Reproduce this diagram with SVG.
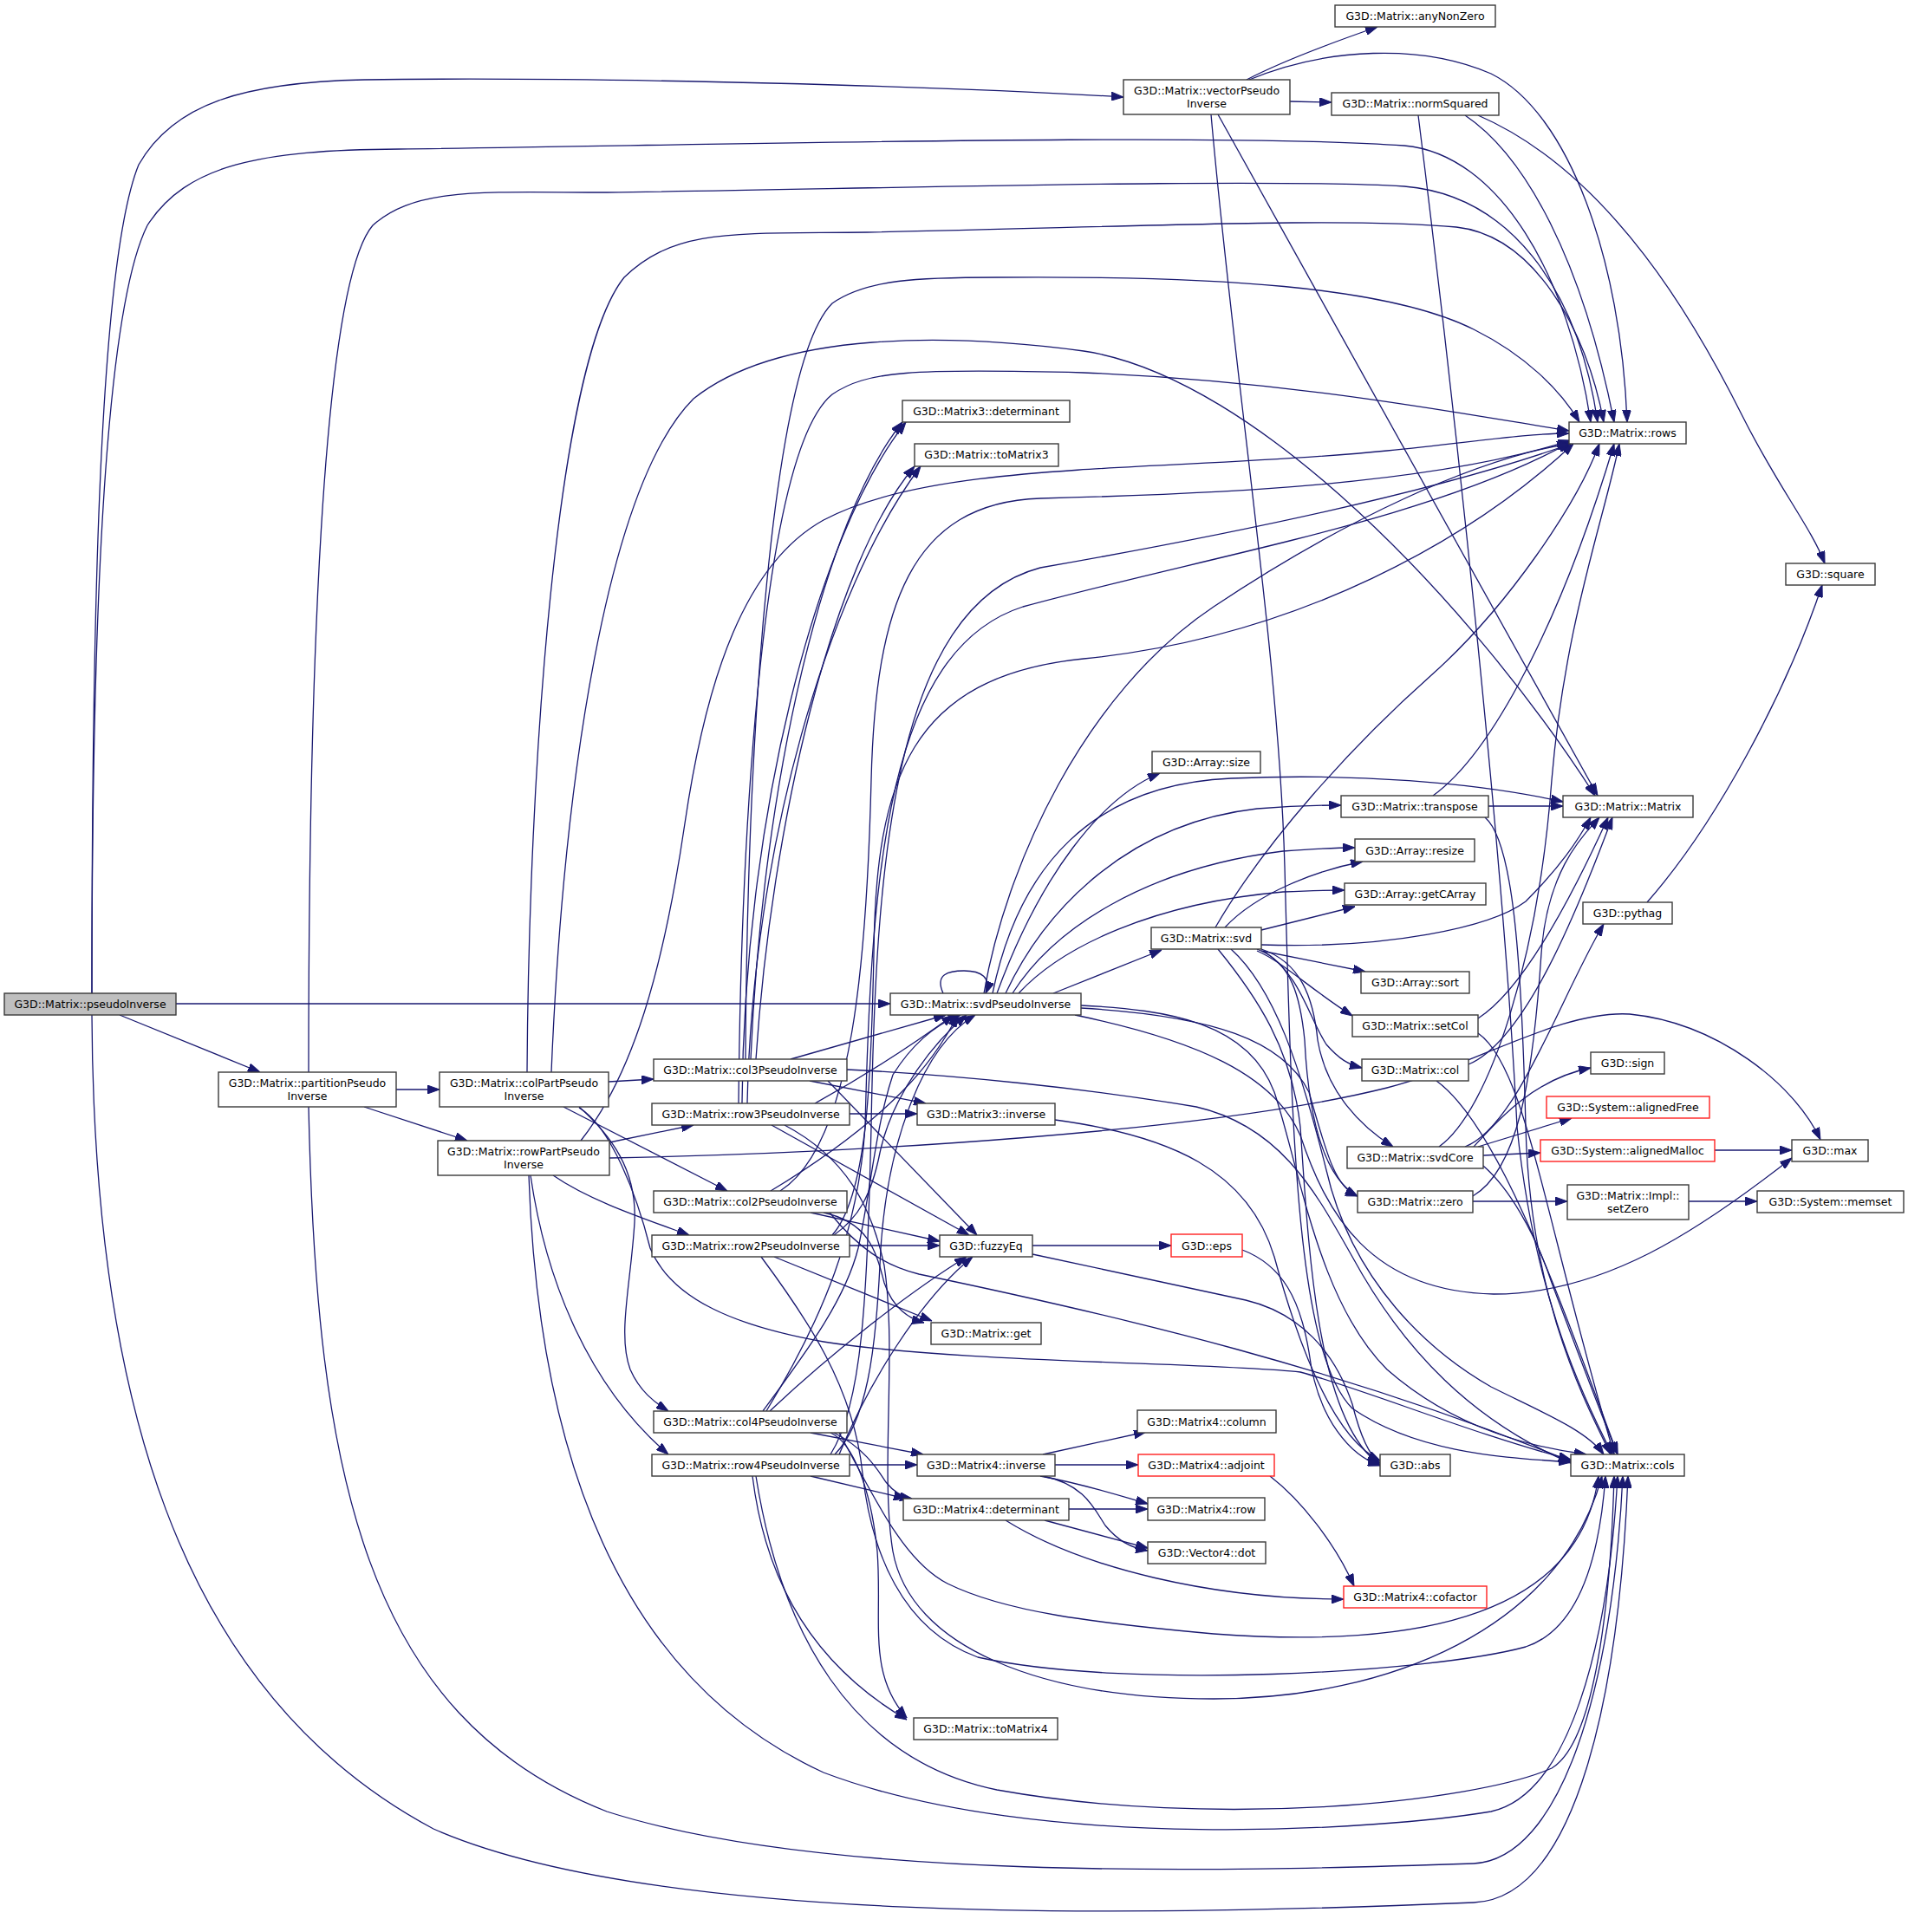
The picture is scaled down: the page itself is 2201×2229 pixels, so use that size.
<svg xmlns="http://www.w3.org/2000/svg" width="2201" height="2229" viewBox="0 0 2201 2229">
<style>
.n rect{fill:#ffffff;stroke:#3a3a3a;stroke-width:1.4}
.n.r rect{stroke:#ff2020}
.n.g rect{fill:#bfbfbf}
.n text{font-family:"DejaVu Sans","Liberation Sans",sans-serif;font-size:12.5px;fill:#000;text-anchor:middle}
.e path{fill:none;stroke:#191970;stroke-width:1.3;marker-end:url(#a)}
</style>
<defs>
<marker id="a" viewBox="0 0 14 10" refX="14" refY="5" markerWidth="14" markerHeight="10" markerUnits="userSpaceOnUse" orient="auto"><path d="M0,0 L14,5 L0,10 z" fill="#191970" stroke="#191970" stroke-width="1"/></marker>
</defs>
<rect x="0" y="0" width="2201" height="2229" fill="#ffffff"/>
<g id="connectors" class="e">
<path d="M106,1146 C106,700 115,300 160,190 C200,120 280,95 420,92 C700,88 1100,100 1296,112"/>
<path d="M106,1146 C106,720 120,360 170,260 C215,190 300,173 460,172 C800,168 1400,152 1620,168 C1730,178 1810,320 1835,487"/>
<path d="M203,1158 L1027,1158"/>
<path d="M138,1171 L300,1237"/>
<path d="M106,1171 C108,1600 200,1950 500,2110 C750,2220 1300,2212 1700,2195 C1820,2190 1868,1950 1878,1703"/>
<path d="M1438,92 C1480,70 1540,48 1589,31"/>
<path d="M1488,117 L1536,118"/>
<path d="M1441,92 C1530,55 1640,50 1720,85 C1810,130 1870,300 1877,487"/>
<path d="M1405,132 L1843,918"/>
<path d="M1397,132 C1425,450 1475,750 1482,1000 C1490,1300 1495,1560 1560,1625 C1640,1680 1750,1682 1812,1687"/>
<path d="M1690,133 C1760,180 1825,300 1862,487"/>
<path d="M1636,133 C1682,500 1735,1000 1750,1300 C1770,1500 1830,1620 1860,1678"/>
<path d="M1705,133 C1860,200 1960,380 2010,480 C2050,560 2090,610 2105,650"/>
<path d="M457,1257 L507,1257"/>
<path d="M420,1277 L539,1316"/>
<path d="M356,1237 C356,800 370,330 430,260 C480,215 560,222 700,222 C1000,218 1450,205 1620,215 C1740,225 1820,330 1843,487"/>
<path d="M356,1277 C365,1700 420,1980 700,2090 C950,2170 1400,2160 1700,2150 C1800,2145 1860,1950 1872,1703"/>
<path d="M702,1248 L754,1245"/>
<path d="M650,1277 L839,1374"/>
<path d="M668,1277 C705,1310 735,1350 732,1410 C728,1480 712,1540 727,1580 C738,1605 755,1618 771,1628"/>
<path d="M608,1237 C610,900 640,420 720,320 C780,262 850,270 1000,268 C1300,262 1550,250 1680,262 C1770,272 1830,380 1850,487"/>
<path d="M668,1278 C705,1300 735,1380 750,1440 C775,1500 850,1530 950,1548 C1100,1572 1400,1572 1500,1583 C1580,1605 1700,1655 1812,1684"/>
<path d="M636,1237 C650,900 700,560 800,460 C900,380 1100,385 1250,405 C1450,435 1700,700 1840,918"/>
<path d="M703,1318 L800,1298"/>
<path d="M638,1356 C680,1385 740,1405 795,1425"/>
<path d="M612,1356 C630,1480 680,1600 771,1678"/>
<path d="M670,1316 C730,1240 765,1120 790,950 C815,780 860,650 950,600 C1080,530 1350,545 1600,520 C1700,510 1760,500 1810,500"/>
<path d="M610,1356 C620,1650 700,1930 950,2045 C1200,2140 1600,2110 1720,2090 C1810,2070 1855,1900 1866,1703"/>
<path d="M703,1336 C1000,1330 1400,1305 1600,1255 C1700,1230 1800,1165 1880,1170 C1980,1180 2070,1250 2100,1315"/>
<path d="M912,1222 L1091,1171"/>
<path d="M934,1247 L1068,1273"/>
<path d="M955,1247 L1127,1425"/>
<path d="M977,1234 C1100,1240 1250,1255 1380,1277 C1480,1300 1520,1380 1560,1450 C1620,1560 1700,1640 1812,1688"/>
<path d="M866,1222 C880,900 950,600 1041,487"/>
<path d="M872,1222 C890,950 960,650 1055,538"/>
<path d="M860,1222 C862,850 890,420 960,350 C1000,322 1060,320 1150,320 C1400,318 1600,330 1700,380 C1760,410 1800,450 1822,487"/>
<path d="M980,1285 L1058,1285"/>
<path d="M940,1273 C1000,1240 1060,1200 1100,1171"/>
<path d="M890,1298 L1118,1425"/>
<path d="M856,1273 C858,950 940,620 1045,487"/>
<path d="M862,1273 C868,980 955,680 1062,538"/>
<path d="M852,1273 C855,950 880,520 960,455 C1000,428 1050,425 1250,430 C1500,440 1700,480 1810,497"/>
<path d="M905,1298 C975,1335 1005,1390 1020,1460 C1035,1560 1015,1700 1030,1790 C1050,1900 1200,1960 1400,1960 C1600,1960 1800,1880 1848,1703"/>
<path d="M889,1374 C950,1337 1000,1300 1040,1260 C1070,1230 1090,1200 1105,1171"/>
<path d="M935,1399 L1084,1432"/>
<path d="M950,1399 C1000,1410 1010,1440 1020,1480 C1030,1510 1050,1522 1066,1526"/>
<path d="M957,1399 C990,1440 1020,1460 1060,1470 C1300,1520 1550,1580 1812,1686"/>
<path d="M900,1374 C985,1320 1000,1100 1005,900 C1010,700 1050,580 1200,575 C1400,570 1650,560 1812,508"/>
<path d="M980,1437 L1084,1437"/>
<path d="M962,1425 C990,1405 1005,1380 1015,1330 C1030,1260 1080,1200 1115,1171"/>
<path d="M893,1450 L1075,1524"/>
<path d="M878,1450 C930,1520 985,1600 995,1700 C1005,1790 1040,1880 1128,1912 C1300,1950 1650,1930 1760,1900 C1820,1880 1845,1800 1852,1703"/>
<path d="M960,1425 C1000,1380 1005,1250 1008,1100 C1010,900 1050,780 1250,760 C1500,735 1700,620 1815,512"/>
<path d="M880,1628 C930,1560 975,1500 990,1440 C1005,1370 1010,1300 1030,1240 C1055,1200 1085,1180 1108,1171"/>
<path d="M888,1628 C960,1560 1050,1490 1115,1450"/>
<path d="M935,1653 L1065,1678"/>
<path d="M962,1653 C1000,1672 1015,1700 1022,1710 C1030,1720 1040,1727 1052,1729"/>
<path d="M958,1653 C985,1665 1005,1720 1012,1790 C1018,1870 1000,1930 1046,1982"/>
<path d="M968,1653 C1005,1720 1040,1800 1093,1827 C1160,1860 1260,1872 1400,1885 C1600,1900 1820,1880 1844,1703"/>
<path d="M884,1628 C950,1520 990,1420 998,1300 C1005,1000 1025,750 1180,700 C1400,640 1650,600 1812,510"/>
<path d="M980,1690 L1058,1690"/>
<path d="M935,1703 L1045,1729"/>
<path d="M963,1678 C1000,1640 1010,1560 1015,1460 C1020,1330 1060,1210 1125,1171"/>
<path d="M968,1678 C1000,1600 1060,1500 1122,1450"/>
<path d="M868,1703 C880,1800 920,1910 1046,1984"/>
<path d="M872,1703 C900,1880 980,2030 1150,2065 C1400,2110 1700,2080 1790,2040 C1840,2010 1858,1850 1862,1703"/>
<path d="M958,1678 C995,1620 1000,1500 1005,1300 C1010,1000 1030,700 1200,655 C1400,620 1650,570 1812,512"/>
<path d="M1088,1146 C1078,1124 1094,1120 1112,1120 C1132,1120 1144,1128 1137,1146"/>
<path d="M1215,1146 L1340,1096"/>
<path d="M1150,1146 C1200,1010 1270,920 1338,892"/>
<path d="M1160,1146 C1205,1050 1300,950 1450,933 C1500,929 1530,929 1547,929"/>
<path d="M1168,1146 C1215,1072 1320,1002 1480,982 C1520,979 1545,978 1563,978"/>
<path d="M1175,1146 C1225,1092 1330,1042 1480,1029 C1520,1027 1540,1027 1551,1027"/>
<path d="M1135,1146 C1160,1000 1250,800 1400,700 C1550,600 1700,530 1810,512"/>
<path d="M1145,1146 C1175,1000 1260,905 1420,898 C1560,892 1700,902 1803,925"/>
<path d="M1247,1160 C1350,1165 1440,1180 1470,1260 C1500,1350 1520,1500 1600,1580 C1680,1650 1770,1670 1830,1678"/>
<path d="M1247,1163 C1400,1172 1480,1200 1510,1260 C1530,1330 1540,1370 1566,1380"/>
<path d="M1240,1171 C1380,1200 1470,1240 1500,1310 C1530,1400 1580,1490 1723,1493 C1850,1493 1960,1420 2067,1336"/>
<path d="M1455,1073 L1563,1046"/>
<path d="M1413,1070 C1450,1030 1520,1004 1572,994"/>
<path d="M1455,1097 L1575,1121"/>
<path d="M1450,1097 C1480,1110 1510,1140 1560,1172"/>
<path d="M1457,1097 C1500,1123 1510,1175 1530,1205 C1545,1222 1555,1228 1571,1232"/>
<path d="M1455,1095 C1500,1110 1515,1150 1520,1200 C1530,1260 1570,1300 1607,1323"/>
<path d="M1450,1095 C1490,1110 1500,1150 1505,1200 C1510,1300 1530,1360 1566,1380"/>
<path d="M1402,1070 C1460,970 1560,860 1650,780 C1740,700 1820,580 1845,512"/>
<path d="M1455,1090 C1600,1095 1720,1070 1760,1040 C1800,1000 1820,970 1835,943"/>
<path d="M1405,1095 C1450,1150 1490,1210 1500,1300 C1510,1450 1520,1640 1592,1690"/>
<path d="M1420,1095 C1470,1140 1500,1230 1530,1350 C1560,1480 1650,1560 1720,1600 C1780,1630 1830,1650 1850,1678"/>
<path d="M1717,930 L1803,930"/>
<path d="M1653,918 C1720,870 1800,720 1862,512"/>
<path d="M1713,943 C1745,970 1755,1100 1760,1300 C1765,1500 1830,1620 1858,1678"/>
<path d="M1705,1175 C1760,1140 1820,1020 1855,943"/>
<path d="M1705,1192 C1760,1230 1780,1400 1862,1678"/>
<path d="M1694,1228 C1760,1200 1820,1050 1860,943"/>
<path d="M1657,1247 C1730,1300 1800,1500 1866,1678"/>
<path d="M1660,1323 C1720,1280 1775,1100 1790,900 C1805,720 1850,600 1868,512"/>
<path d="M1690,1323 C1750,1300 1800,1150 1850,1066"/>
<path d="M1700,1323 C1730,1290 1770,1245 1835,1232"/>
<path d="M1705,1323 L1813,1290"/>
<path d="M1711,1333 L1777,1330"/>
<path d="M1711,1345 C1740,1370 1770,1420 1790,1480 C1820,1560 1850,1640 1866,1678"/>
<path d="M1699,1386 L1808,1386"/>
<path d="M1699,1380 C1750,1350 1768,1250 1778,1100 C1785,1000 1830,960 1845,943"/>
<path d="M1948,1386 L2027,1386"/>
<path d="M1978,1327 L2067,1327"/>
<path d="M1900,1041 C1980,950 2060,800 2102,675"/>
<path d="M1191,1437 L1351,1437"/>
<path d="M1191,1447 L1437,1500 C1500,1515 1540,1560 1560,1620 C1570,1660 1580,1680 1592,1688"/>
<path d="M1433,1442 C1480,1460 1500,1500 1510,1560 C1520,1640 1560,1680 1592,1691"/>
<path d="M1217,1292 C1350,1310 1440,1350 1470,1450 C1500,1560 1540,1660 1592,1685"/>
<path d="M1203,1678 L1322,1652"/>
<path d="M1217,1690 L1313,1690"/>
<path d="M1200,1703 C1250,1712 1290,1725 1324,1735"/>
<path d="M1203,1703 C1250,1712 1262,1740 1275,1760 C1290,1778 1305,1786 1324,1789"/>
<path d="M1233,1741 L1324,1741"/>
<path d="M1205,1754 L1324,1786"/>
<path d="M1160,1754 C1250,1810 1400,1845 1550,1845"/>
<path d="M1465,1703 C1500,1730 1540,1780 1562,1830"/>
</g>
<g id="n0" class="n g"><rect x="5" y="1146" width="198" height="25"/><text x="104" y="1163">G3D::Matrix::pseudoInverse</text></g>
<g id="n1" class="n"><rect x="252" y="1237" width="205" height="40"/><text x="354.5" y="1253.5">G3D::Matrix::partitionPseudo</text><text x="354.5" y="1268.5">Inverse</text></g>
<g id="n2" class="n"><rect x="507" y="1237" width="195" height="40"/><text x="604.5" y="1253.5">G3D::Matrix::colPartPseudo</text><text x="604.5" y="1268.5">Inverse</text></g>
<g id="n3" class="n"><rect x="505" y="1316" width="198" height="40"/><text x="604" y="1332.5">G3D::Matrix::rowPartPseudo</text><text x="604" y="1347.5">Inverse</text></g>
<g id="n4" class="n"><rect x="754" y="1222" width="223" height="25"/><text x="865.5" y="1239">G3D::Matrix::col3PseudoInverse</text></g>
<g id="n5" class="n"><rect x="752" y="1273" width="228" height="25"/><text x="866" y="1290">G3D::Matrix::row3PseudoInverse</text></g>
<g id="n6" class="n"><rect x="754" y="1374" width="223" height="25"/><text x="865.5" y="1391">G3D::Matrix::col2PseudoInverse</text></g>
<g id="n7" class="n"><rect x="752" y="1425" width="228" height="25"/><text x="866" y="1442">G3D::Matrix::row2PseudoInverse</text></g>
<g id="n8" class="n"><rect x="754" y="1628" width="223" height="25"/><text x="865.5" y="1645">G3D::Matrix::col4PseudoInverse</text></g>
<g id="n9" class="n"><rect x="752" y="1678" width="228" height="25"/><text x="866" y="1695">G3D::Matrix::row4PseudoInverse</text></g>
<g id="n10" class="n"><rect x="1296" y="92" width="192" height="40"/><text x="1392" y="108.5">G3D::Matrix::vectorPseudo</text><text x="1392" y="123.5">Inverse</text></g>
<g id="n11" class="n"><rect x="1041" y="462" width="193" height="25"/><text x="1137.5" y="479">G3D::Matrix3::determinant</text></g>
<g id="n12" class="n"><rect x="1055" y="512" width="166" height="26"/><text x="1138" y="529">G3D::Matrix::toMatrix3</text></g>
<g id="n13" class="n"><rect x="1027" y="1146" width="220" height="25"/><text x="1137" y="1163">G3D::Matrix::svdPseudoInverse</text></g>
<g id="n14" class="n"><rect x="1058" y="1273" width="159" height="25"/><text x="1137.5" y="1290">G3D::Matrix3::inverse</text></g>
<g id="n15" class="n"><rect x="1084" y="1425" width="107" height="25"/><text x="1137.5" y="1442">G3D::fuzzyEq</text></g>
<g id="n16" class="n"><rect x="1074" y="1526" width="127" height="25"/><text x="1137.5" y="1543">G3D::Matrix::get</text></g>
<g id="n17" class="n"><rect x="1058" y="1678" width="159" height="25"/><text x="1137.5" y="1695">G3D::Matrix4::inverse</text></g>
<g id="n18" class="n"><rect x="1042" y="1729" width="191" height="25"/><text x="1137.5" y="1746">G3D::Matrix4::determinant</text></g>
<g id="n19" class="n"><rect x="1054" y="1982" width="166" height="25"/><text x="1137" y="1999">G3D::Matrix::toMatrix4</text></g>
<g id="n20" class="n"><rect x="1540" y="6" width="185" height="25"/><text x="1632.5" y="23">G3D::Matrix::anyNonZero</text></g>
<g id="n21" class="n"><rect x="1536" y="107" width="193" height="26"/><text x="1632.5" y="124">G3D::Matrix::normSquared</text></g>
<g id="n22" class="n"><rect x="1329" y="867" width="125" height="25"/><text x="1391.5" y="884">G3D::Array::size</text></g>
<g id="n23" class="n"><rect x="1328" y="1070" width="127" height="25"/><text x="1391.5" y="1087">G3D::Matrix::svd</text></g>
<g id="n24" class="n r"><rect x="1351" y="1424" width="82" height="26"/><text x="1392" y="1441.5">G3D::eps</text></g>
<g id="n25" class="n"><rect x="1312" y="1627" width="160" height="26"/><text x="1392" y="1644.5">G3D::Matrix4::column</text></g>
<g id="n26" class="n r"><rect x="1313" y="1678" width="157" height="25"/><text x="1391.5" y="1695">G3D::Matrix4::adjoint</text></g>
<g id="n27" class="n"><rect x="1324" y="1728" width="135" height="26"/><text x="1391.5" y="1745.5">G3D::Matrix4::row</text></g>
<g id="n28" class="n"><rect x="1324" y="1779" width="136" height="25"/><text x="1392" y="1796">G3D::Vector4::dot</text></g>
<g id="n29" class="n"><rect x="1547" y="918" width="170" height="25"/><text x="1632" y="935">G3D::Matrix::transpose</text></g>
<g id="n30" class="n"><rect x="1563" y="968" width="138" height="26"/><text x="1632" y="985.5">G3D::Array::resize</text></g>
<g id="n31" class="n"><rect x="1551" y="1019" width="163" height="25"/><text x="1632.5" y="1036">G3D::Array::getCArray</text></g>
<g id="n32" class="n"><rect x="1570" y="1121" width="125" height="25"/><text x="1632.5" y="1138">G3D::Array::sort</text></g>
<g id="n33" class="n"><rect x="1560" y="1171" width="145" height="25"/><text x="1632.5" y="1188">G3D::Matrix::setCol</text></g>
<g id="n34" class="n"><rect x="1571" y="1222" width="123" height="25"/><text x="1632.5" y="1239">G3D::Matrix::col</text></g>
<g id="n35" class="n"><rect x="1554" y="1323" width="157" height="25"/><text x="1632.5" y="1340">G3D::Matrix::svdCore</text></g>
<g id="n36" class="n"><rect x="1566" y="1374" width="133" height="25"/><text x="1632.5" y="1391">G3D::Matrix::zero</text></g>
<g id="n37" class="n"><rect x="1592" y="1678" width="81" height="25"/><text x="1632.5" y="1695">G3D::abs</text></g>
<g id="n38" class="n r"><rect x="1550" y="1830" width="165" height="25"/><text x="1632.5" y="1847">G3D::Matrix4::cofactor</text></g>
<g id="n39" class="n"><rect x="1810" y="487" width="135" height="25"/><text x="1877.5" y="504">G3D::Matrix::rows</text></g>
<g id="n40" class="n"><rect x="1803" y="918" width="150" height="25"/><text x="1878" y="935">G3D::Matrix::Matrix</text></g>
<g id="n41" class="n"><rect x="1826" y="1041" width="103" height="25"/><text x="1877.5" y="1058">G3D::pythag</text></g>
<g id="n42" class="n"><rect x="1835" y="1214" width="85" height="25"/><text x="1877.5" y="1231">G3D::sign</text></g>
<g id="n43" class="n r"><rect x="1784" y="1265" width="188" height="25"/><text x="1878" y="1282">G3D::System::alignedFree</text></g>
<g id="n44" class="n r"><rect x="1777" y="1315" width="201" height="25"/><text x="1877.5" y="1332">G3D::System::alignedMalloc</text></g>
<g id="n45" class="n"><rect x="1808" y="1367" width="140" height="40"/><text x="1878" y="1383.5">G3D::Matrix::Impl::</text><text x="1878" y="1398.5">setZero</text></g>
<g id="n46" class="n"><rect x="1812" y="1678" width="131" height="25"/><text x="1877.5" y="1695">G3D::Matrix::cols</text></g>
<g id="n47" class="n"><rect x="2060" y="650" width="103" height="25"/><text x="2111.5" y="667">G3D::square</text></g>
<g id="n48" class="n"><rect x="2067" y="1315" width="88" height="25"/><text x="2111" y="1332">G3D::max</text></g>
<g id="n49" class="n"><rect x="2027" y="1374" width="169" height="25"/><text x="2111.5" y="1391">G3D::System::memset</text></g>
</svg>
